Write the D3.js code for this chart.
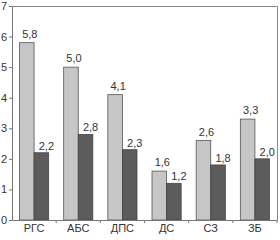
<!DOCTYPE html>
<html>
<head>
<meta charset="utf-8">
<script src="https://cdn.jsdelivr.net/npm/d3@7"></script>
<style>
body { margin: 0; background: #fff; }
</style>
</head>
<body>
<div id="chart"></div>
<script>
// data
var categories = ["РГС", "АБС", "ДПС", "ДС", "СЗ", "ЗБ"];
var lightVals = [5.8, 5.0, 4.1, 1.6, 2.6, 3.3];
var darkVals = [2.2, 2.8, 2.3, 1.2, 1.8, 2.0];
var yTicks = [0, 1, 2, 3, 4, 5, 6, 7];

function init(){
	var w = 280;
	var h = 240;
	var margin = {top: 6, right: 3, bottom: 20, left: 12};

	var svg = d3.select("#chart")
		.append("svg")
		.attr("width", w)
		.attr("height", h);

	var xScale = d3.scaleBand()
		.domain(categories)
		.range([margin.left, w - margin.right])
		.paddingInner(0.34)
		.paddingOuter(0.17);

	var sub = d3.scaleBand()
		.domain(["a", "b"])
		.range([0, xScale.bandwidth()]);

	var yScale = d3.scaleLinear()
		.domain([0, 7])
		.range([h - margin.bottom, margin.top]);

	var fmt = function(v){ return d3.format(".1f")(v).replace(".", ","); };

	// frame top/right
	svg.append("path")
		.attr("d", "M" + margin.left + "," + (yScale(7) + 0.5) + "H" + (w - margin.right + 0.5) + "V" + yScale(0))
		.attr("fill", "none")
		.attr("stroke", "#888")
		.attr("stroke-width", 1);

	// bars
	var groups = svg.selectAll("g.grp")
		.data(categories)
		.enter()
		.append("g")
		.attr("class", "grp")
		.attr("transform", function(d){ return "translate(" + xScale(d) + ",0)"; });

	groups.append("rect")
		.attr("x", sub("a"))
		.attr("y", function(d, i){ return yScale(lightVals[i]); })
		.attr("width", sub.bandwidth())
		.attr("height", function(d, i){ return yScale(0) - yScale(lightVals[i]); })
		.attr("fill", "#c6c6c6")
		.attr("stroke", "#555")
		.attr("stroke-width", 0.8);

	groups.append("rect")
		.attr("x", sub("b"))
		.attr("y", function(d, i){ return yScale(darkVals[i]); })
		.attr("width", sub.bandwidth())
		.attr("height", function(d, i){ return yScale(0) - yScale(darkVals[i]); })
		.attr("fill", "#5c5c5c")
		.attr("stroke", "#444")
		.attr("stroke-width", 0.8);

	// value labels
	groups.append("text")
		.attr("x", sub("a") + sub.bandwidth() / 2 + 3)
		.attr("y", function(d, i){ return yScale(lightVals[i]) - 5; })
		.attr("text-anchor", "middle")
		.attr("font-family", "Liberation Sans, sans-serif")
		.attr("font-size", "11px")
		.attr("fill", "#333")
		.text(function(d, i){ return fmt(lightVals[i]); });

	groups.append("text")
		.attr("x", sub("b") + sub.bandwidth() / 2 + 5)
		.attr("y", function(d, i){ return yScale(darkVals[i]) - 3; })
		.attr("text-anchor", "middle")
		.attr("font-family", "Liberation Sans, sans-serif")
		.attr("font-size", "11px")
		.attr("fill", "#333")
		.text(function(d, i){ return fmt(darkVals[i]); });

	// y axis
	var yAxis = svg.append("g")
		.attr("transform", "translate(" + margin.left + ",0)")
		.call(d3.axisLeft(yScale).tickValues(yTicks).tickSize(3).tickPadding(2).tickFormat(d3.format("d")));
	yAxis.selectAll("text")
		.attr("font-family", "Liberation Sans, sans-serif")
		.attr("font-size", "11px")
		.attr("fill", "#333");
	yAxis.selectAll("line, path").attr("stroke", "#777");

	// x axis
	var xAxis = svg.append("g")
		.attr("transform", "translate(0," + yScale(0) + ")")
		.call(d3.axisBottom(xScale).tickSize(0).tickPadding(4));
	xAxis.select("path").attr("stroke", "#777");
	xAxis.selectAll("text")
		.attr("font-family", "Liberation Sans, sans-serif")
		.attr("font-size", "11px")
		.attr("fill", "#333");

	// separator ticks between groups
	var step = xScale.step();
	svg.selectAll("line.sep")
		.data(categories)
		.enter()
		.append("line")
		.attr("class", "sep")
		.attr("x1", function(d){ return xScale(d) + xScale.bandwidth() + (step - xScale.bandwidth()) / 2; })
		.attr("x2", function(d){ return xScale(d) + xScale.bandwidth() + (step - xScale.bandwidth()) / 2; })
		.attr("y1", yScale(0))
		.attr("y2", yScale(0) + 3)
		.attr("stroke", "#777");
}
window.onload = init;
</script>
</body>
</html>
